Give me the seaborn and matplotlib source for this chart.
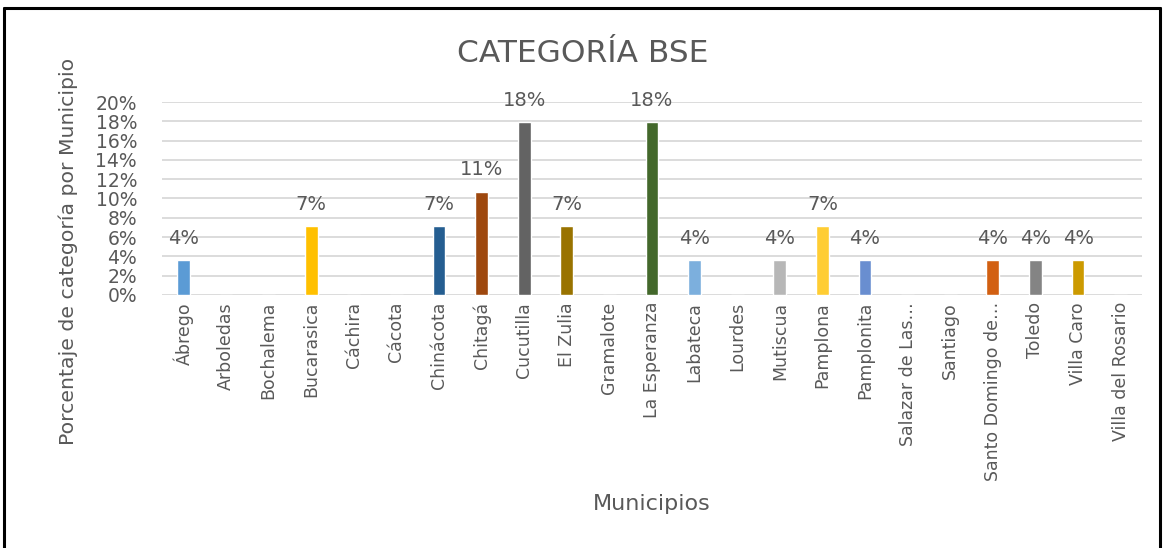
import matplotlib
matplotlib.use("Agg")
import matplotlib.pyplot as plt
import seaborn as sns
import pandas as pd
from matplotlib.lines import Line2D
from matplotlib.ticker import PercentFormatter

municipios = ["Ábrego", "Arboledas", "Bochalema", "Bucarasica", "Cáchira", "Cácota",
              "Chinácota", "Chitagá", "Cucutilla", "El Zulia", "Gramalote", "La Esperanza",
              "Labateca", "Lourdes", "Mutiscua", "Pamplona", "Pamplonita", "Salazar de Las…",
              "Santiago", "Santo Domingo de…", "Toledo", "Villa Caro", "Villa del Rosario"]
porcentajes = [3.6, 0, 0, 7.1, 0, 0, 7.1, 10.7, 17.9, 7.1, 0, 17.9,
               3.6, 0, 3.6, 7.1, 3.6, 0, 0, 3.6, 3.6, 3.6, 0]
colores = ["#5B9BD5", "#ED7D31", "#A5A5A5", "#FFC000", "#4472C4", "#70AD47", "#255E91",
           "#9E480E", "#636363", "#997300", "#264478", "#43682B", "#7CAFDD", "#F1975A",
           "#B7B7B7", "#FFCD33", "#698ED0", "#8CC168", "#327DC2", "#D26012", "#848484",
           "#CC9A00", "#335AA1"]
yticks = [0, 2, 4, 6, 8, 10, 12, 14, 16, 18, 20]

sns.set_theme(style="white")
plt.rcParams['font.family'] = ['DejaVu Sans']
txt = "#595959"

df = pd.DataFrame({"Municipio": municipios, "Pct": porcentajes})

W, H = 1166, 548
fig = plt.figure(figsize=(W / 100, H / 100), dpi=100)
ax = fig.add_axes([162 / W, 1 - 295 / H, 980 / W, 193 / H])

sns.barplot(data=df, x="Municipio", y="Pct", hue="Municipio", palette=colores,
            legend=False, width=0.3, ax=ax, saturation=1)

ax.set_ylim(0, 20)
ax.set_xlim(-0.5, len(municipios) - 0.5)
ax.set_yticks(yticks)
ax.yaxis.set_major_formatter(PercentFormatter(decimals=0))
ax.grid(axis="y", color="#D9D9D9", linewidth=1.3)
ax.set_axisbelow(True)
for s in ax.spines.values():
    s.set_visible(False)
ax.tick_params(axis="y", labelsize=13.5, colors=txt, length=0, pad=18)
ax.tick_params(axis="x", labelsize=12.5, colors=txt, length=0, pad=5)
plt.setp(ax.get_xticklabels(), rotation=90)

for cont in ax.containers:
    labels = [f"{v:.0f}%" if v > 0 else "" for v in cont.datavalues]
    ax.bar_label(cont, labels=labels, padding=9, fontsize=14, color=txt)

fig.text(0.5, 1 - 53 / H, "CATEGORÍA BSE", fontsize=22.5, color=txt,
         ha="center", va="center")

ax.set_ylabel("Porcentaje de categoría por Municipio", fontsize=14.7, color=txt)
ax.yaxis.set_label_coords((78 - 162) / 980, (295 - 251) / 193)
ax.set_xlabel("Municipios", fontsize=16, color=txt)
ax.xaxis.set_label_coords(0.5, (295 - 494) / 193)

x0, x1, yt = 4 / W, 1160 / W, 1 - 8 / H
for xs, ys in [([x0, x1], [yt, yt]), ([x0, x0], [0, yt]), ([x1, x1], [0, yt])]:
    fig.add_artist(Line2D(xs, ys, transform=fig.transFigure, color="black", linewidth=2.2))

fig.savefig("out.png", dpi=100)
